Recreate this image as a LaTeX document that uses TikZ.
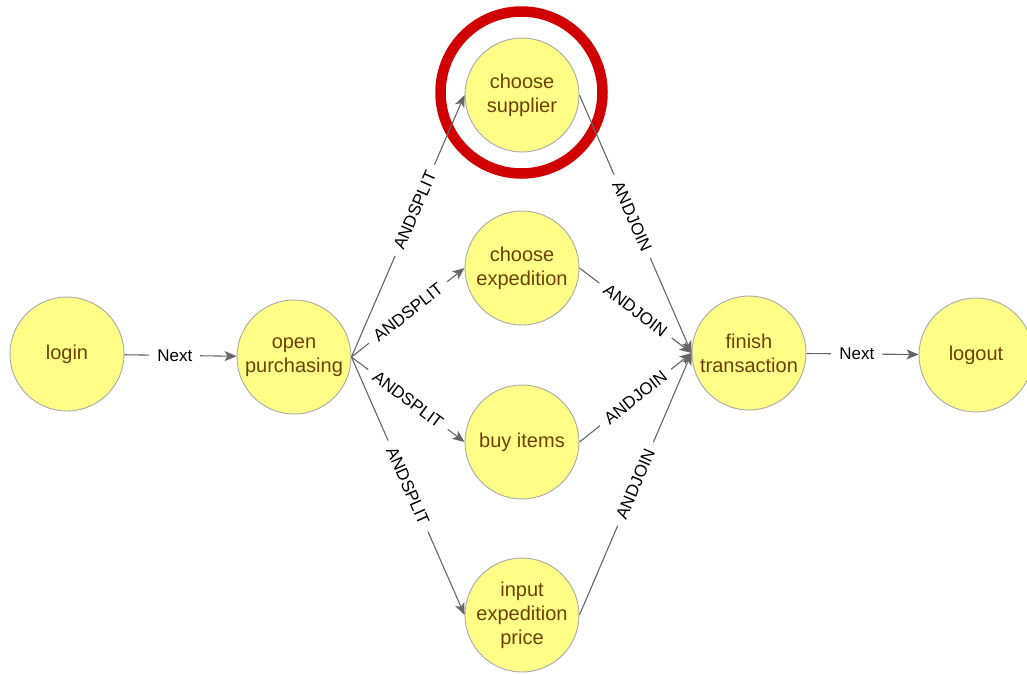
\documentclass[tikz,border=0pt]{standalone}
\usepackage{fontspec}
\setmainfont{Liberation Sans}
\usetikzlibrary{arrows.meta}
\definecolor{taskfill}{HTML}{FFFF88}
\definecolor{taskline}{HTML}{A8A8A8}
\definecolor{tasktext}{HTML}{6E4000}
\definecolor{flowline}{HTML}{666666}
\definecolor{marker}{HTML}{D00000}
\tikzset{
  task/.style={circle, draw=taskline, line width=0.9pt, fill=taskfill,
    minimum size=114pt, inner sep=0pt, text=tasktext, align=center,
    font=\fontsize{20}{24}\selectfont},
  flow/.style={draw=flowline, line width=1.1pt,
    -{Stealth[length=12pt,width=10pt,inset=3pt]}},
  flowlabel/.style={fill=white, text=black, inner xsep=8pt, inner ysep=1pt,
    font=\fontsize{17}{20}\selectfont, midway},
}
\begin{document}
\begin{tikzpicture}[x=1pt,y=-1pt]
\useasboundingbox (0,0) rectangle (1027,673);

% process steps
\node[task] (login)  at (67,354)  {login};
\node[task] (open)   at (294,357) {open\\purchasing};
\node[task] (supp)   at (522,95)  {choose\\supplier};
\node[task] (exped)  at (522,268) {choose\\expedition};
\node[task] (buy)    at (522,442) {buy items};
\node[task] (price)  at (522,615) {input\\expedition\\price};
\node[task] (finish) at (749,353) {finish\\transaction};
\node[task] (logout) at (976,355) {logout};

% highlight ring
\draw[marker, line width=10.5pt] (supp.center) ++(-0.5,-2.5) circle[radius=81];

% sequential flows
\draw[flow] (login) -- node[flowlabel, pos=0.45] {Next} (open);
\draw[flow] (finish) -- node[flowlabel, pos=0.45] {Next} (logout);

% parallel split
\draw[flow] (open.east) -- node[flowlabel, sloped, pos=0.56] {ANDSPLIT} (supp.west);
\draw[flow] (open.east) -- node[flowlabel, sloped] {ANDSPLIT} (exped.west);
\draw[flow] (open.east) -- node[flowlabel, sloped] {ANDSPLIT} (buy.west);
\draw[flow] (open.east) -- node[flowlabel, sloped] {ANDSPLIT} (price.west);

% parallel join
\draw[flow] (supp.east)  -- node[flowlabel, sloped, pos=0.47] {ANDJOIN} (finish.west);
\draw[flow] (exped.east) -- node[flowlabel, sloped] {ANDJOIN} (finish.west);
\draw[flow] (buy.east)   -- node[flowlabel, sloped] {ANDJOIN} (finish.west);
\draw[flow] (price.east) -- node[flowlabel, sloped] {ANDJOIN} (finish.west);
\end{tikzpicture}
\end{document}
